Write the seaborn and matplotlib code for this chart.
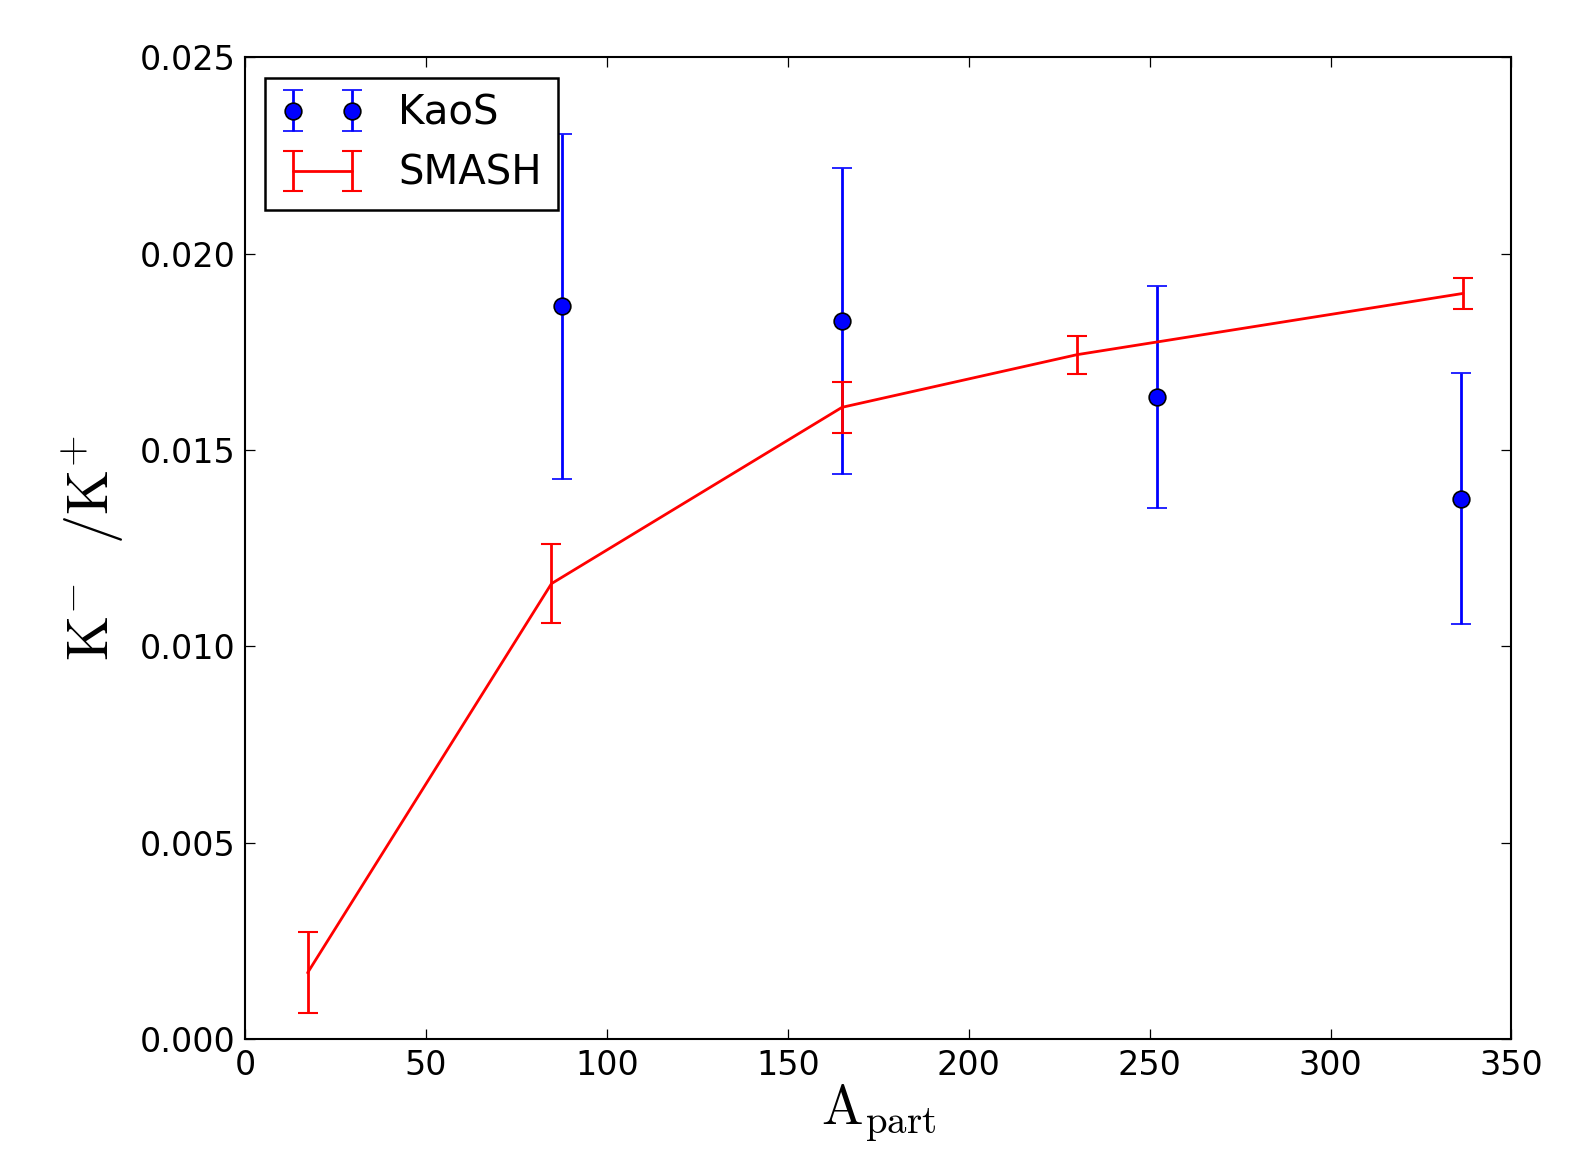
import matplotlib
matplotlib.use("Agg")
import matplotlib.pyplot as plt
import seaborn as sns
import numpy as np

# KaoS data
kaos_x = [87.5, 165.0, 252.0, 336.0]
kaos_y = [0.01866, 0.01828, 0.01635, 0.01376]
kaos_err = [0.0044, 0.0039, 0.00283, 0.0032]

# SMASH data
smash_x = [17.3, 84.7, 165.0, 229.9, 336.6]
smash_y = [0.00169, 0.0116, 0.01609, 0.01743, 0.01899]
smash_err = [0.00103, 0.001, 0.00065, 0.00048, 0.00039]

xticks = [0, 50, 100, 150, 200, 250, 300, 350]
yticks = [0.000, 0.005, 0.010, 0.015, 0.020, 0.025]

sns.set_theme(style="white", rc={
    "xtick.direction": "in", "ytick.direction": "in",
    "xtick.top": True, "ytick.right": True,
    "xtick.bottom": True, "ytick.left": True,
    "xtick.major.size": 7, "ytick.major.size": 7,
    "xtick.major.width": 0.9, "ytick.major.width": 0.9,
    "axes.edgecolor": "black", "axes.linewidth": 1.5,
    "text.color": "black", "axes.labelcolor": "black",
    "xtick.color": "black", "ytick.color": "black",
    "mathtext.fontset": "cm",
})
plt.rcParams['font.family'] = ['DejaVu Sans']

fig = plt.figure(figsize=(15.81, 11.52), dpi=100)
ax = fig.add_axes([243/1568, 1 - 1031/1143, (1499-243)/1568, (1031-57)/1143])

ax.errorbar(kaos_x, kaos_y, yerr=kaos_err, fmt='o', color='blue', ecolor='blue',
            mfc='blue', mec='black', mew=1.2, ms=12, elinewidth=2, capsize=7,
            capthick=1.5, label='KaoS')
ax.errorbar(smash_x, smash_y, yerr=smash_err, fmt='-', color='red',
            lw=2, elinewidth=2, capsize=7, capthick=1.5, label='SMASH')

ax.set_xlim(0, 350)
ax.set_ylim(0, 0.025)
ax.set_xticks(xticks)
ax.set_yticks(yticks)
ax.set_xticklabels([str(v) for v in xticks])
ax.set_yticklabels([f"{v:.3f}" for v in yticks])
ax.tick_params(labelsize=24, pad=7, colors='black')

ax.set_xlabel(r"$\mathrm{A}_{\mathrm{part}}$", fontsize=40, labelpad=0, color='black')
ax.set_ylabel(r"$\mathrm{K}^{-}\ \ /\mathrm{K}^{+}$", fontsize=42, labelpad=10, color='black')

leg = ax.legend(loc='upper left', numpoints=2, fontsize=29, fancybox=False,
                frameon=True, edgecolor='black', framealpha=1,
                borderaxespad=0.5, handlelength=2.05, borderpad=0.4,
                handletextpad=0.85)
leg.get_frame().set_linewidth(1.8)
for t in leg.get_texts():
    t.set_color('black')

fig.savefig("out.png", dpi=100)
